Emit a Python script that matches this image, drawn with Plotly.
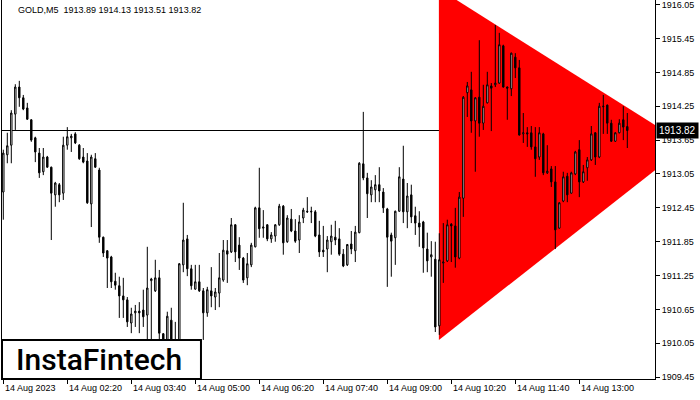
import plotly.graph_objects as go
import pandas as pd

symbol = "GOLD,M5"
start_time = "2023-08-14 01:00"

opens = [1912.73, 1913.39, 1913.56, 1914.11, 1914.59, 1914.40, 1914.22, 1914.01, 1913.69, 1913.42,
         1913.09, 1913.35, 1913.17, 1912.68, 1912.86, 1912.71, 1913.56, 1913.69, 1913.76, 1913.56,
         1913.35, 1913.28, 1912.52, 1913.32, 1913.12, 1911.93, 1911.69, 1911.58, 1911.15, 1911.07,
         1910.89, 1910.82, 1910.41, 1910.59, 1910.62, 1910.64, 1910.55, 1911.16, 1910.98, 1911.21,
         1910.22, 1910.02, 1910.46, 1910.05, 1910.02, 1911.44, 1911.90, 1911.37, 1911.01, 1911.14,
         1910.98, 1910.59, 1910.98, 1910.87, 1910.94, 1911.17, 1911.69, 1911.67, 1912.15, 1911.79,
         1911.56, 1911.21, 1911.44, 1911.76, 1912.45, 1912.09, 1912.15, 1911.90, 1911.95, 1912.15,
         1912.48, 1911.85, 1912.25, 1912.04, 1911.88, 1912.27, 1912.39, 1912.39, 1912.38, 1911.97,
         1911.70, 1911.72, 1911.85, 1911.93, 1911.90, 1911.63, 1911.44, 1911.81, 1911.69, 1912.01,
         1913.23, 1912.98, 1912.68, 1912.77, 1912.86, 1912.73, 1912.43, 1911.97, 1911.92, 1912.39,
         1912.96, 1912.38, 1912.68, 1912.31, 1912.18, 1912.20, 1911.72, 1911.58, 1911.54, 1910.36,
         1911.47, 1911.51, 1912.16, 1912.13, 1911.56, 1912.62, 1914.49, 1914.54, 1913.99, 1914.41,
         1913.95, 1914.31, 1914.61, 1914.63, 1914.66, 1915.32, 1914.59, 1914.56, 1915.12, 1914.93,
         1913.76, 1913.78, 1913.78, 1913.53, 1913.35, 1913.76, 1913.07, 1913.14, 1912.91, 1912.09,
         1912.57, 1913.01, 1912.71, 1913.05, 1913.48, 1912.91, 1913.16, 1913.30, 1913.78, 1913.35,
         1914.24, 1914.27, 1913.95, 1913.63, 1913.78, 1914.01, 1913.89]
highs = [1913.48, 1913.78, 1914.18, 1914.64, 1914.70, 1914.45, 1914.31, 1914.02, 1913.71, 1913.51,
         1913.51, 1913.37, 1913.18, 1912.91, 1912.89, 1913.71, 1913.88, 1913.76, 1913.79, 1913.58,
         1913.51, 1913.42, 1913.39, 1913.42, 1913.16, 1911.94, 1911.70, 1911.60, 1911.30, 1911.23,
         1911.21, 1910.87, 1910.68, 1910.73, 1910.78, 1911.00, 1911.76, 1911.21, 1911.53, 1911.35,
         1910.23, 1910.61, 1910.68, 1910.43, 1911.47, 1912.54, 1911.97, 1911.44, 1911.44, 1911.44,
         1911.03, 1911.05, 1911.40, 1911.03, 1911.65, 1911.88, 1911.88, 1912.27, 1912.16, 1911.93,
         1911.58, 1911.65, 1911.83, 1912.47, 1913.16, 1912.41, 1912.16, 1912.02, 1912.16, 1912.52,
         1912.50, 1912.32, 1912.43, 1912.25, 1912.32, 1912.45, 1912.64, 1912.47, 1912.41, 1912.22,
         1912.13, 1911.95, 1912.15, 1912.22, 1912.09, 1911.72, 1911.81, 1912.04, 1912.13, 1913.26,
         1914.15, 1913.07, 1912.94, 1913.03, 1913.17, 1912.80, 1912.45, 1912.01, 1912.40, 1913.17,
         1913.55, 1912.89, 1912.86, 1912.47, 1912.39, 1912.22, 1912.01, 1911.86, 1911.85, 1912.00,
         1912.18, 1912.24, 1912.18, 1912.45, 1912.73, 1914.43, 1914.68, 1914.86, 1914.41, 1915.42,
         1914.63, 1914.86, 1914.66, 1915.69, 1915.55, 1915.34, 1914.60, 1915.20, 1915.19, 1915.07,
         1914.13, 1913.88, 1913.90, 1913.88, 1913.88, 1913.78, 1913.56, 1913.19, 1913.19, 1912.55,
         1913.09, 1913.07, 1913.09, 1913.46, 1913.65, 1913.21, 1913.35, 1913.90, 1913.79, 1914.31,
         1914.45, 1914.28, 1914.01, 1913.79, 1914.02, 1914.25, 1914.13]
lows = [1912.24, 1913.24, 1913.24, 1913.83, 1914.24, 1914.18, 1914.01, 1913.62, 1913.26, 1912.98,
        1913.03, 1913.16, 1911.88, 1912.47, 1912.55, 1912.59, 1913.48, 1913.44, 1913.58, 1913.30,
        1913.24, 1912.52, 1912.11, 1913.16, 1911.83, 1911.58, 1911.03, 1911.03, 1911.00, 1910.50,
        1910.50, 1910.34, 1910.23, 1910.34, 1910.23, 1910.34, 1910.11, 1910.11, 1910.96, 1910.11,
        1909.95, 1909.95, 1909.90, 1909.90, 1909.95, 1911.31, 1911.24, 1911.00, 1911.00, 1910.96,
        1910.11, 1910.52, 1910.69, 1910.64, 1910.69, 1911.14, 1911.12, 1911.65, 1911.49, 1911.35,
        1911.12, 1911.08, 1911.40, 1911.75, 1911.92, 1911.92, 1911.86, 1911.83, 1911.85, 1912.13,
        1911.62, 1911.83, 1912.02, 1911.83, 1911.65, 1912.18, 1912.36, 1912.18, 1911.93, 1911.58,
        1911.58, 1911.31, 1911.62, 1911.79, 1911.60, 1911.40, 1911.42, 1911.63, 1911.49, 1912.00,
        1912.94, 1912.27, 1912.55, 1912.55, 1912.55, 1912.36, 1911.05, 1911.23, 1911.44, 1912.38,
        1912.18, 1912.09, 1912.18, 1911.97, 1911.76, 1911.30, 1911.31, 1911.23, 1910.25, 1910.20,
        1911.12, 1911.49, 1911.49, 1911.39, 1911.54, 1912.29, 1914.06, 1913.78, 1913.09, 1913.71,
        1913.83, 1914.30, 1913.81, 1914.59, 1914.65, 1914.58, 1914.01, 1914.43, 1914.75, 1913.73,
        1913.60, 1913.53, 1913.48, 1913.00, 1913.30, 1913.03, 1913.05, 1912.82, 1911.72, 1912.08,
        1912.55, 1912.55, 1912.70, 1913.03, 1912.64, 1912.89, 1912.93, 1913.28, 1913.21, 1913.33,
        1913.76, 1913.76, 1913.62, 1913.62, 1913.77, 1913.65, 1913.51]
closes = [1913.42, 1913.55, 1914.13, 1914.59, 1914.40, 1914.20, 1914.02, 1913.65, 1913.44, 1913.07,
          1913.35, 1913.17, 1912.71, 1912.89, 1912.68, 1913.56, 1913.71, 1913.72, 1913.60, 1913.32,
          1913.26, 1912.54, 1913.35, 1913.17, 1911.93, 1911.65, 1911.56, 1911.14, 1911.08, 1910.89,
          1910.82, 1910.43, 1910.57, 1910.62, 1910.59, 1910.52, 1911.03, 1911.19, 1911.21, 1910.23,
          1910.05, 1910.53, 1910.05, 1910.10, 1911.46, 1911.88, 1911.37, 1911.07, 1911.14, 1910.98,
          1910.59, 1911.00, 1910.89, 1910.96, 1911.21, 1911.70, 1911.63, 1912.15, 1911.67, 1911.56,
          1911.17, 1911.46, 1911.79, 1912.45, 1912.08, 1912.11, 1911.90, 1911.97, 1912.15, 1912.48,
          1911.83, 1912.27, 1912.04, 1911.86, 1912.20, 1912.41, 1912.38, 1912.38, 1911.95, 1911.67,
          1911.67, 1911.88, 1911.95, 1911.88, 1911.63, 1911.42, 1911.80, 1911.72, 1912.02, 1913.24,
          1912.98, 1912.70, 1912.82, 1912.86, 1912.75, 1912.45, 1911.93, 1911.86, 1912.39, 1913.00,
          1912.38, 1912.66, 1912.29, 1912.18, 1912.11, 1911.74, 1911.51, 1911.62, 1910.34, 1911.53,
          1911.49, 1912.15, 1912.13, 1911.58, 1912.64, 1914.41, 1914.61, 1913.99, 1914.40, 1913.95,
          1914.25, 1914.63, 1914.57, 1914.66, 1915.34, 1914.59, 1914.57, 1915.19, 1914.93, 1913.74,
          1913.78, 1913.76, 1913.53, 1913.32, 1913.78, 1913.07, 1913.10, 1912.91, 1912.06, 1912.54,
          1913.00, 1912.68, 1913.07, 1913.44, 1912.91, 1913.09, 1913.30, 1913.76, 1913.35, 1914.25,
          1914.25, 1913.95, 1913.63, 1913.78, 1913.95, 1913.88, 1913.82]

xtick_labels = ["14 Aug 2023", "14 Aug 02:20", "14 Aug 03:40", "14 Aug 05:00", "14 Aug 06:20",
                "14 Aug 07:40", "14 Aug 09:00", "14 Aug 10:20", "14 Aug 11:40", "14 Aug 13:00"]
xtick_times = ["2023-08-14 01:00", "2023-08-14 02:20", "2023-08-14 03:40", "2023-08-14 05:00",
               "2023-08-14 06:20", "2023-08-14 07:40", "2023-08-14 09:00", "2023-08-14 10:20",
               "2023-08-14 11:40", "2023-08-14 13:00"]
ytick_vals = [1916.05, 1915.45, 1914.85, 1914.25, 1913.65, 1913.05, 1912.45, 1911.85,
              1911.25, 1910.65, 1910.05, 1909.45]

# triangle pattern (bar index, price)
tri_idx = [108.9, 108.9, 170.9]
tri_price = [1916.33, 1910.11, 1913.56]

times = pd.date_range(start_time, periods=len(opens), freq="5min")
idx = list(range(len(opens)))
time_to_idx = {t.strftime("%Y-%m-%d %H:%M"): i for i, t in enumerate(times)}
xtick_pos = [time_to_idx[t] for t in xtick_times]
last_close = closes[-1]

FONT = "Liberation Sans, Arial, sans-serif"

fig = go.Figure()
fig.add_trace(go.Candlestick(
    x=idx, open=opens, high=highs, low=lows, close=closes,
    increasing=dict(line=dict(color="black", width=1), fillcolor="white"),
    decreasing=dict(line=dict(color="black", width=1), fillcolor="black"),
    whiskerwidth=0, showlegend=False, hoverinfo="skip"))

tri_path = "M " + " L ".join(f"{x},{y}" for x, y in zip(tri_idx, tri_price)) + " Z"
fig.add_shape(type="path", xref="x", yref="y", path=tri_path, fillcolor="rgb(255,0,0)",
              line=dict(width=0), layer="below")

fig.add_shape(type="line", xref="paper", x0=0, x1=1, yref="y", y0=last_close, y1=last_close,
              line=dict(color="black", width=1), layer="below")

# logo box
fig.add_shape(type="rect", xref="paper", yref="paper", x0=0.0, x1=0.3047, y0=0.0, y1=0.1029,
              fillcolor="white", line=dict(color="black", width=2), layer="above")
fig.add_annotation(xref="paper", yref="paper", x=0.149, y=0.0515, text="InstaFintech",
                   showarrow=False, font=dict(family="Roboto, sans-serif", size=30, color="black", weight=500),
                   xanchor="center", yanchor="middle")

# header
fig.add_annotation(xref="paper", yref="paper", x=0.0214, y=0.9736, xanchor="left", yanchor="middle",
                   text=f"{symbol}  {opens[-1]:.2f} {highs[-1]:.2f} {lows[-1]:.2f} {closes[-1]:.2f}",
                   showarrow=False, font=dict(family=FONT, size=9, color="black"))

# current price label
fig.add_annotation(xref="paper", yref="y", x=1, y=last_close, xanchor="left", yanchor="middle",
                   xshift=1, text=f"{last_close:.2f}", showarrow=False, bgcolor="black",
                   font=dict(family=FONT, size=10, color="white"), borderpad=2)

# time labels, left-aligned at ticks
for pos, lab in zip(xtick_pos, xtick_labels):
    fig.add_annotation(xref="x", yref="paper", x=pos, y=0, yshift=-2, xshift=0,
                       xanchor="left", yanchor="top", text=lab, showarrow=False,
                       font=dict(family=FONT, size=9, color="black"))

fig.update_layout(
    width=700, height=400,
    margin=dict(l=2, r=45, t=0, b=21),
    paper_bgcolor="white", plot_bgcolor="white",
    boxgap=0.5,
    xaxis=dict(range=[-0.325, 162.925], showgrid=False, zeroline=False, rangeslider=dict(visible=False),
               showline=True, mirror=True, linecolor="black", linewidth=1,
               tickmode="array", tickvals=xtick_pos, showticklabels=False,
               ticks="outside", ticklen=4, tickcolor="black"),
    yaxis=dict(range=[1909.418, 1916.132], side="right", showgrid=False, zeroline=False,
               showline=True, mirror=True, linecolor="black", linewidth=1,
               tickmode="array", tickvals=ytick_vals, ticktext=[f"{v:.2f}" for v in ytick_vals],
               ticks="outside", ticklen=4, tickcolor="black", ticklabeloverflow="allow",
               tickfont=dict(family=FONT, size=9, color="black")),
)

fig.write_html("out.html", config={"displayModeBar": False},
               post_script="document.body.style.margin='0px';document.body.style.padding='0px';")
